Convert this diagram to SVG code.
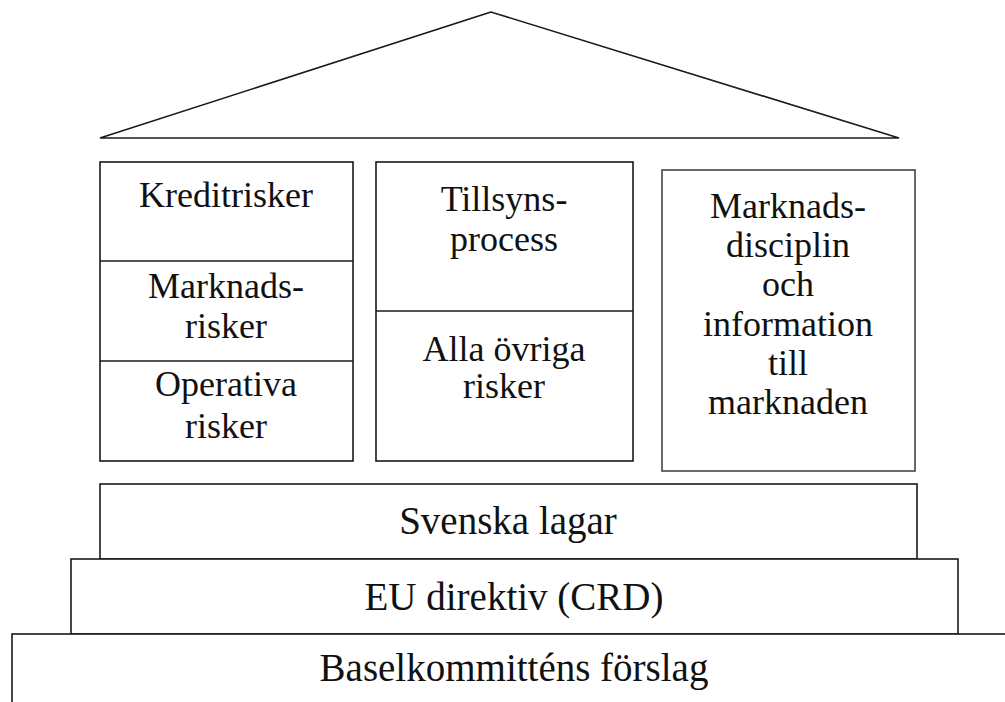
<svg xmlns="http://www.w3.org/2000/svg" width="1005" height="702" viewBox="0 0 1005 702">
<style>
.box{fill:#fff;stroke:#1a1a1a;stroke-width:1.6}
.lbl{font-family:'Liberation Serif','DejaVu Serif',serif;font-size:36px;fill:#111;text-anchor:middle}
.lblb{font-family:'Liberation Serif','DejaVu Serif',serif;font-size:39px;fill:#111;text-anchor:middle}
</style>
<rect width="1005" height="702" fill="#fff"/>
<g id="roof"><polygon class="box" points="491,12 100,138 899,138"/></g>
<g id="pillar1">
<rect class="box" x="100" y="162" width="253" height="299"/>
<line class="box" x1="100" y1="261" x2="353" y2="261"/>
<line class="box" x1="100" y1="361" x2="353" y2="361"/>
<text class="lbl" font-family="Liberation Serif" x="226" y="207">Kreditrisker</text>
<text class="lbl" font-family="Liberation Serif" x="226" y="298">Marknads-</text>
<text class="lbl" font-family="Liberation Serif" x="226" y="338">risker</text>
<text class="lbl" font-family="Liberation Serif" x="226" y="396">Operativa</text>
<text class="lbl" font-family="Liberation Serif" x="226" y="438">risker</text>
</g>
<g id="pillar2">
<rect class="box" x="376" y="162" width="257" height="299"/>
<line class="box" x1="376" y1="311" x2="633" y2="311"/>
<text class="lbl" font-family="Liberation Serif" x="504" y="211">Tillsyns-</text>
<text class="lbl" font-family="Liberation Serif" x="504" y="251">process</text>
<text class="lbl" font-family="Liberation Serif" x="504" y="361">Alla övriga</text>
<text class="lbl" font-family="Liberation Serif" x="504" y="398">risker</text>
</g>
<g id="pillar3">
<rect class="box" x="662" y="170" width="253" height="301" style="stroke:#444"/>
<text class="lbl" font-family="Liberation Serif" x="788" y="218">Marknads-</text>
<text class="lbl" font-family="Liberation Serif" x="788" y="257">disciplin</text>
<text class="lbl" font-family="Liberation Serif" x="788" y="296">och</text>
<text class="lbl" font-family="Liberation Serif" x="788" y="336">information</text>
<text class="lbl" font-family="Liberation Serif" x="788" y="375">till</text>
<text class="lbl" font-family="Liberation Serif" x="788" y="414">marknaden</text>
</g>
<g id="svenska">
<rect class="box" x="100" y="484" width="817" height="75"/>
<text class="lblb" font-family="Liberation Serif" x="508" y="534">Svenska lagar</text>
</g>
<g id="eu">
<rect class="box" x="71" y="559" width="887" height="75"/>
<text class="lblb" font-family="Liberation Serif" x="514" y="610">EU direktiv (CRD)</text>
</g>
<g id="basel">
<rect class="box" x="12" y="634" width="1010" height="90"/>
<text class="lblb" font-family="Liberation Serif" x="514" y="681">Baselkommitténs förslag</text>
</g>
<g id="connectors"/>
</svg>
